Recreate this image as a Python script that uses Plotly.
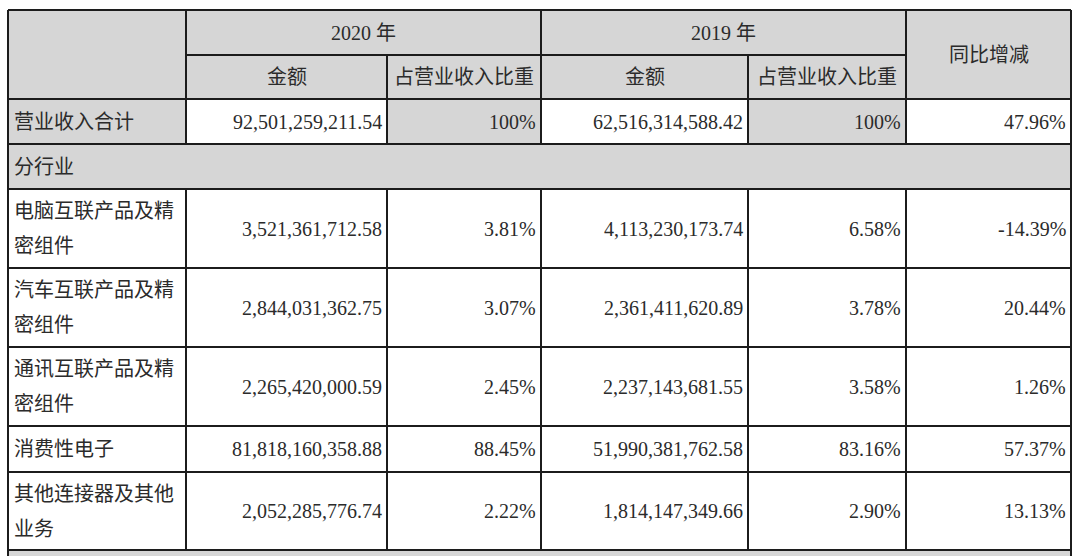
import plotly.graph_objects as go

# ---- data ----
years = ["2020 年", "2019 年"]
sub_headers = ["金额", "占营业收入比重"]
yoy_header = "同比增减"
total_label = "营业收入合计"
section_label = "分行业"

categories = ["电脑互联产品及精密组件", "汽车互联产品及精密组件", "通讯互联产品及精密组件",
              "消费性电子", "其他连接器及其他业务"]
total_2020 = 92501259211.54
total_2019 = 62516314588.42
total_ratio_2020 = 100
total_ratio_2019 = 100
total_yoy = 47.96
amount_2020 = [3521361712.58, 2844031362.75, 2265420000.59, 81818160358.88, 2052285776.74]
ratio_2020 = [3.81, 3.07, 2.45, 88.45, 2.22]
amount_2019 = [4113230173.74, 2361411620.89, 2237143681.55, 51990381762.58, 1814147349.66]
ratio_2019 = [6.58, 3.78, 3.58, 83.16, 2.90]
yoy = [-14.39, 20.44, 1.26, 57.37, 13.13]

# ---- layout geometry ----
W, H = 1080, 556
xs = [8, 186, 387, 541, 748, 906, 1071]
row_y = [10, 55, 99, 144, 189, 268, 347, 426, 472, 550]
GRAY = "#d6d6d6"
LINE = "#1c1c1c"
TXT = "#2b2b2b"
FONT = "Liberation Serif, Noto Sans CJK SC, serif"
FS = 20

def fmt_amt(v):
    return f"{v:,.2f}"

def fmt_pct(p):
    if float(p).is_integer() and abs(p) >= 100:
        return f"{int(p)}%"
    return f"{p:.2f}%"

shapes = []
annotations = []

def rect(x0, y0, x1, y1, fill):
    shapes.append(dict(type="rect", xref="x", yref="y", x0=x0, x1=x1, y0=y0, y1=y1,
                       fillcolor=fill, line=dict(width=0), layer="below"))

def line(x0, y0, x1, y1):
    shapes.append(dict(type="line", xref="x", yref="y", x0=x0, x1=x1, y0=y0, y1=y1,
                       line=dict(color=LINE, width=2)))

def text(t, x, y, anchor):
    annotations.append(dict(text=t, x=x, y=y, xref="x", yref="y", xanchor=anchor,
                            yanchor="middle", showarrow=False,
                            font=dict(family=FONT, size=FS, color=TXT)))

# backgrounds
rect(xs[0], row_y[0], xs[-1], row_y[2], GRAY)           # header
rect(xs[0], row_y[2], xs[-1], row_y[3], GRAY)           # total row
for ci in (1, 3, 5):
    rect(xs[ci], row_y[2], xs[ci + 1], row_y[3], "white")
rect(xs[0], row_y[3], xs[-1], row_y[4], GRAY)           # section row
rect(xs[0], row_y[-1], xs[-1], H + 20, GRAY)            # bottom band

# horizontal lines
line(xs[0], row_y[0], xs[-1], row_y[0])
line(xs[1], row_y[1], xs[5], row_y[1])
for y in row_y[2:]:
    line(xs[0], y, xs[-1], y)

# vertical lines
line(xs[0], row_y[0], xs[0], H + 20)
line(xs[-1], row_y[0], xs[-1], H + 20)
line(xs[1], row_y[0], xs[1], row_y[3])
line(xs[3], row_y[0], xs[3], row_y[3])
line(xs[5], row_y[0], xs[5], row_y[3])
line(xs[2], row_y[1], xs[2], row_y[3])
line(xs[4], row_y[1], xs[4], row_y[3])
for ci in range(1, 6):
    line(xs[ci], row_y[4], xs[ci], row_y[-1])

# header texts
text(years[0], (xs[1] + xs[3]) / 2, (row_y[0] + row_y[1]) / 2, "center")
text(years[1], (xs[3] + xs[5]) / 2, (row_y[0] + row_y[1]) / 2, "center")
for k in range(2):
    for j, sh in enumerate(sub_headers):
        ci = 1 + 2 * k + j
        text(sh, (xs[ci] + xs[ci + 1]) / 2, (row_y[1] + row_y[2]) / 2, "center")
text(yoy_header, (xs[5] + xs[6]) / 2, (row_y[0] + row_y[2]) / 2, "center")

def fill_row(label, vals, y0, y1):
    yc = (y0 + y1) / 2
    chunks = [label[i:i + 8] for i in range(0, len(label), 8)]
    if len(chunks) == 1:
        text(chunks[0], xs[0] + 4, yc, "left")
    else:
        text(chunks[0], xs[0] + 4, yc - 17.5, "left")
        text(chunks[1], xs[0] + 4, yc + 17.5, "left")
    for ci, v in enumerate(vals, start=1):
        text(v, xs[ci + 1] - 3, yc, "right")

fill_row(total_label, [fmt_amt(total_2020), fmt_pct(total_ratio_2020), fmt_amt(total_2019),
                       fmt_pct(total_ratio_2019), fmt_pct(total_yoy)], row_y[2], row_y[3])
text(section_label, xs[0] + 4, (row_y[3] + row_y[4]) / 2, "left")
for i, cat in enumerate(categories):
    fill_row(cat, [fmt_amt(amount_2020[i]), fmt_pct(ratio_2020[i]), fmt_amt(amount_2019[i]),
                   fmt_pct(ratio_2019[i]), fmt_pct(yoy[i])], row_y[4 + i], row_y[5 + i])

fig = go.Figure()
fig.update_layout(
    width=W, height=H, margin=dict(l=0, r=0, t=0, b=0),
    paper_bgcolor="white", plot_bgcolor="white",
    xaxis=dict(range=[0, W], visible=False, fixedrange=True),
    yaxis=dict(range=[H, 0], visible=False, fixedrange=True),
    shapes=shapes, annotations=annotations, showlegend=False,
)
fig.write_html(
    "out.html",
    config={"displayModeBar": False},
    post_script="document.body.style.margin='0';document.body.style.overflow='hidden';",
)
